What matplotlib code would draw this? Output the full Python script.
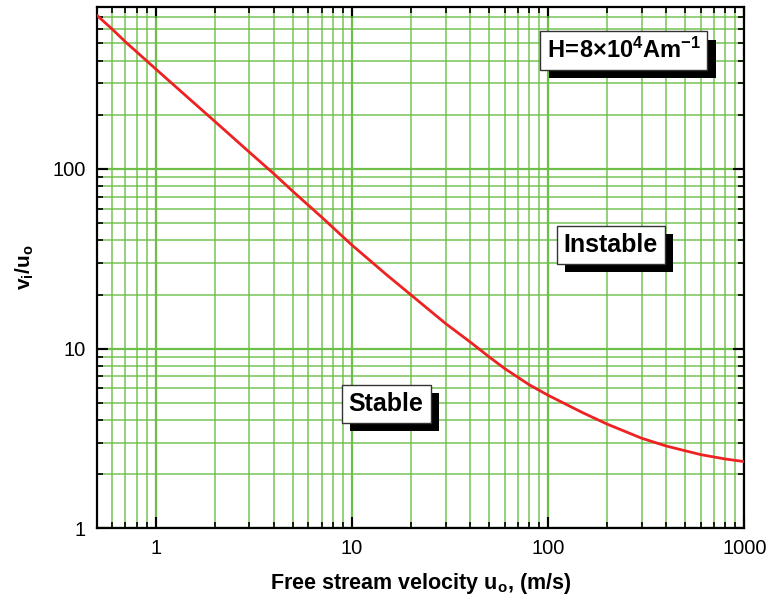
import matplotlib
matplotlib.use("Agg")
import matplotlib.pyplot as plt
import matplotlib.patheffects as pe
from matplotlib.ticker import LogLocator, FixedLocator, NullFormatter

plt.rcParams["font.family"] = ["Liberation Sans", "DejaVu Sans"]
plt.rcParams["mathtext.fontset"] = "custom"
plt.rcParams["mathtext.rm"] = "Liberation Sans"
plt.rcParams["mathtext.bf"] = "Liberation Sans:bold"
plt.rcParams["mathtext.it"] = "Liberation Sans:italic"

# values
u0 = [0.5, 0.6, 0.7, 0.8, 1, 1.5, 2, 3, 4, 5, 7, 10, 15, 20, 30, 40, 50,
      60, 80, 100, 150, 200, 300, 400, 500, 600, 800, 1000]
ratio = [718, 600, 510, 448, 360, 243, 184, 124, 94, 75, 54, 37.7, 25.8,
         19.9, 13.8, 10.9, 9.0, 7.75, 6.3, 5.5, 4.4, 3.8, 3.17, 2.87, 2.70,
         2.57, 2.43, 2.35]

x_ticks = [1, 10, 100, 1000]
x_tick_labels = ["1", "10", "100", "1000"]
y_ticks = [1, 10, 100]
y_tick_labels = ["1", "10", "100"]

notes = [r"$\mathbf{H\!=\!8{\times}10^{4}Am^{-1}}$", "Instable", "Stable"]
note_pos = [(0.814, 0.916), (0.794, 0.543), (0.447, 0.238)]
note_size = [17, 18, 18]

fig = plt.figure(figsize=(7.68, 5.98), dpi=100)
ax = fig.add_axes([0.1259, 0.1166, 0.8432, 0.8722])

ax.set_xscale("log")
ax.set_yscale("log")
ax.set_xlim(0.5, 1000)
ax.set_ylim(1, 800)

green = "#6cbf48"
ax.xaxis.set_major_locator(FixedLocator(x_ticks))
ax.yaxis.set_major_locator(FixedLocator(y_ticks))
ax.xaxis.set_minor_locator(LogLocator(base=10, subs=range(2, 10), numticks=20))
ax.yaxis.set_minor_locator(LogLocator(base=10, subs=range(2, 10), numticks=20))
ax.xaxis.set_minor_formatter(NullFormatter())
ax.yaxis.set_minor_formatter(NullFormatter())
ax.set_xticklabels(x_tick_labels)
ax.set_yticklabels(y_tick_labels)

ax.grid(True, which="major", color=green, linewidth=1.6)
ax.grid(True, which="minor", color=green, linewidth=1.2, alpha=0.85)
ax.set_axisbelow(True)

ax.tick_params(which="both", direction="in", top=True, right=True,
               color="black", labelsize=14.5)
ax.tick_params(which="major", length=8, width=1.5, pad=8)
ax.tick_params(which="minor", length=4, width=1.2)
for s in ax.spines.values():
    s.set_linewidth(1.6)

ax.plot(u0, ratio, color="#ee2222", linewidth=2.0, zorder=3)

ax.set_xlabel(r"Free stream velocity u$_\mathbf{o}$, (m/s)",
              fontsize=15.5, fontweight="bold", labelpad=9)
ax.set_ylabel(r"$\mathbf{v_i/u_o}$", fontsize=15, labelpad=12)

for txt, (px, py), fs in zip(notes, note_pos, note_size):
    t = ax.text(px, py, txt, transform=ax.transAxes, ha="center", va="center",
                fontsize=fs, fontweight="bold", zorder=5,
                bbox=dict(boxstyle="square,pad=0.28", facecolor="white",
                          edgecolor="#333333", linewidth=1.0))
    t.get_bbox_patch().set_path_effects([
        pe.SimplePatchShadow(offset=(6, -6), shadow_rgbFace="black", alpha=1),
        pe.Normal()])

fig.savefig("out.png", dpi=100)
